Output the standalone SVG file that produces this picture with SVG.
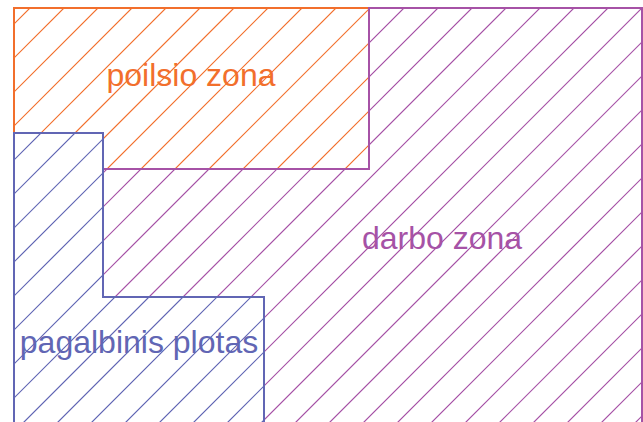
<svg xmlns="http://www.w3.org/2000/svg" width="643" height="422" viewBox="0 0 643 422">
<style>
.lbl{font-family:"Liberation Sans",Arial,sans-serif;font-size:32px}
.hatch{fill:none;stroke-width:1.2}
</style>
<defs>
<clipPath id="clipO"><rect x="14" y="8" width="355" height="161"/></clipPath>
<clipPath id="clipP"><polygon points="103,169 369,169 369,8 642,8 642,424 264,424 264,297 103,297"/></clipPath>
<clipPath id="clipB"><polygon points="14,133 103,133 103,297 264,297 264,424 14,424"/></clipPath>
</defs>
<rect width="643" height="422" fill="#fff"/>
<g id="poilsio-zona">
<rect x="14" y="8" width="355" height="161" fill="#fff"/>
<path class="hatch" stroke="#f26f2c" clip-path="url(#clipO)" d="M38,0L0,38M72,0L0,72M106,0L0,106M140,0L0,140M174,0L0,174M208,0L0,208M242,0L0,242M276,0L0,276M310,0L0,310M344,0L0,344M378,0L0,378M412,0L0,412M446,0L0,446M480,0L0,480M514,0L0,514"/>
<rect x="14" y="8" width="355" height="161" fill="none" stroke="#f26f2c" stroke-width="2"/>
<text class="lbl" x="191" y="86" text-anchor="middle" fill="#f26f2c">poilsio zona</text>
</g>
<g id="darbo-zona">
<polygon points="103,169 369,169 369,8 642,8 642,424 264,424 264,297 103,297" fill="#fff"/>
<path class="hatch" stroke="#a652a6" clip-path="url(#clipP)" d="M242,0L0,242M276,0L0,276M310,0L0,310M344,0L0,344M378,0L0,378M412,0L0,412M446,0L0,446M480,0L0,480M514,0L0,514M548,0L0,548M582,0L0,582M616,0L0,616M650,0L0,650M684,0L0,684M718,0L0,718M752,0L0,752M786,0L0,786M820,0L0,820M854,0L0,854M888,0L0,888M922,0L0,922M956,0L0,956M990,0L0,990M1024,0L0,1024M1058,0L0,1058"/>
<polygon points="103,169 369,169 369,8 642,8 642,424 264,424 264,297 103,297" fill="none" stroke="#a652a6" stroke-width="2"/>
<text class="lbl" x="442" y="249" text-anchor="middle" fill="#a652a6">darbo zona</text>
</g>
<g id="pagalbinis-plotas">
<polygon points="14,133 103,133 103,297 264,297 264,424 14,424" fill="#fff"/>
<path class="hatch" stroke="#6166b4" clip-path="url(#clipB)" d="M140,0L0,140M174,0L0,174M208,0L0,208M242,0L0,242M276,0L0,276M310,0L0,310M344,0L0,344M378,0L0,378M412,0L0,412M446,0L0,446M480,0L0,480M514,0L0,514M548,0L0,548M582,0L0,582M616,0L0,616M650,0L0,650M684,0L0,684"/>
<polygon points="14,133 103,133 103,297 264,297 264,424 14,424" fill="none" stroke="#6166b4" stroke-width="2"/>
<text class="lbl" x="139" y="353" text-anchor="middle" fill="#6166b4">pagalbinis plotas</text>
</g>
<g id="connectors"/>
</svg>
